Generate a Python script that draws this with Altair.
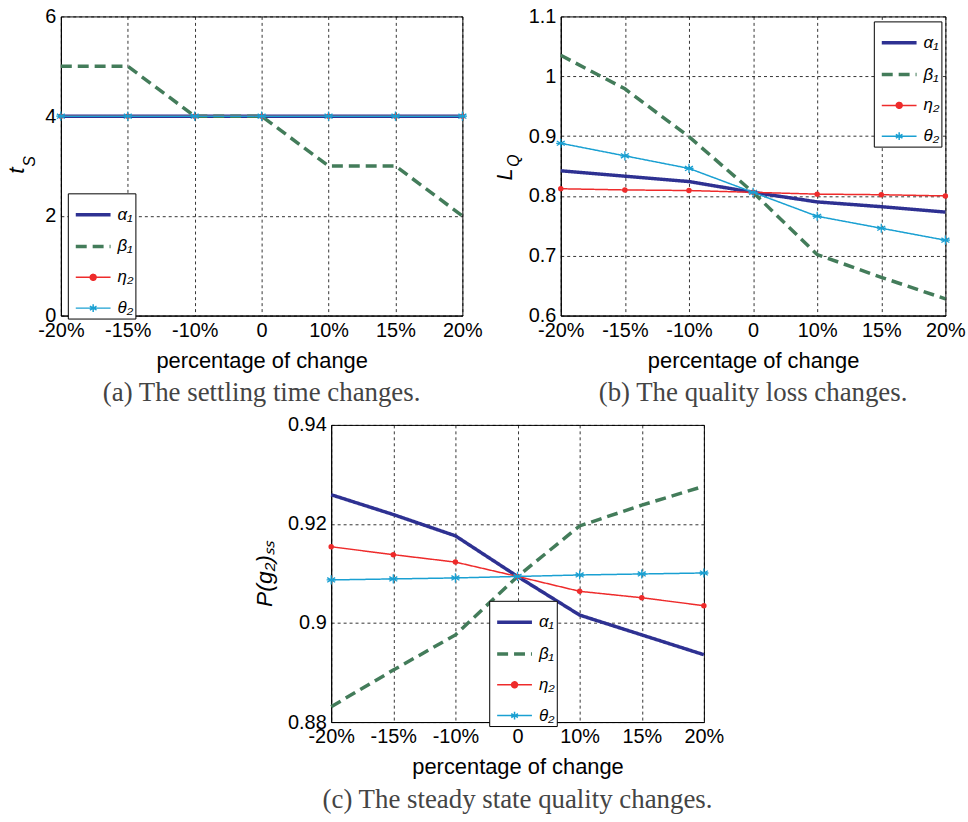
import json
import altair as alt
import pandas as pd

# ---------------- data ----------------
x_labels = ["-20%", "-15%", "-10%", "0", "10%", "15%", "20%"]
series = ["α₁", "β₁", "η₂", "θ₂"]

ts_alpha1 = [4, 4, 4, 4, 4, 4, 4]
ts_beta1 = [5, 5, 4, 4, 3, 3, 2]
ts_eta2 = [4, 4, 4, 4, 4, 4, 4]
ts_theta2 = [4, 4, 4, 4, 4, 4, 4]

lq_alpha1 = [0.842, 0.833, 0.824, 0.806, 0.790, 0.782, 0.773]
lq_beta1 = [1.035, 0.979, 0.899, 0.806, 0.702, 0.664, 0.628]
lq_eta2 = [0.812, 0.810, 0.809, 0.806, 0.803, 0.802, 0.800]
lq_theta2 = [0.888, 0.867, 0.846, 0.806, 0.766, 0.746, 0.726]

pg_alpha1 = [0.9259, 0.9219, 0.9176, 0.9094, 0.9016, 0.8976, 0.8936]
pg_beta1 = [0.8831, 0.8905, 0.8976, 0.9094, 0.9196, 0.9238, 0.9276]
pg_eta2 = [0.9154, 0.9138, 0.9123, 0.9094, 0.9064, 0.9051, 0.9035]
pg_theta2 = [0.9087, 0.9089, 0.9091, 0.9094, 0.9097, 0.9099, 0.9101]

colors = ["#2E3192", "#437C5A", "#EE2B2B", "#1AA0D2"]
dashes = [[1, 0], [11, 6], [1, 0], [1, 0]]
widths = [3.5, 3.5, 1.5, 1.5]

ASTERISK = "M0,-1L0,1M-0.87,-0.5L0.87,0.5M-0.87,0.5L0.87,-0.5M-1,0L1,0"
LINE = "M-1,0L1,0"
LINE_DOT = (LINE + "M0.17,0A0.17,0.17,0,1,1,-0.17,0A0.17,0.17,0,1,1,0.17,0"
            "M0.09,0A0.09,0.09,0,1,1,-0.09,0A0.09,0.09,0,1,1,0.09,0")
LINE_STAR = (LINE + "M0,-0.22L0,0.22M-0.19,-0.11L0.19,0.11M-0.19,0.11L0.19,-0.11"
             "M-0.22,0L0.22,0")
legend_shapes = [LINE, LINE, LINE_DOT, LINE_STAR]
SANS = "Liberation Sans, DejaVu Sans"


def make_df(vals):
    rows = []
    for s, v in zip(series, vals):
        for i, y in enumerate(v):
            rows.append({"idx": i, "series": s, "value": y})
    return pd.DataFrame(rows)


label_expr = json.dumps(x_labels) + "[datum.value]"


def panel(df, ydomain, yvalues, ytitle, lx, ly, caption, w, h, extra=None):
    legend = alt.Legend(
        orient="none", legendX=lx, legendY=ly, title=None,
        strokeColor="black", fillColor="white", padding=2,
        symbolSize=1225, symbolOffset=4, symbolOpacity=1,
        labelFontSize=17, labelFontStyle="italic", labelFont=SANS,
        rowPadding=4, labelOffset=5, cornerRadius=0,
    )
    x = alt.X(
        "idx:Q",
        scale=alt.Scale(domain=[0, 6], nice=False, zero=False),
        axis=alt.Axis(values=list(range(7)), labelExpr=label_expr,
                      labelFlush=False, labelOverlap=False,
                      title="percentage of change", titlePadding=10),
    )
    yax = dict(values=yvalues, format="~g", labelFlush=False, labelOverlap=False)
    if ytitle is None:
        yax["title"] = None
    else:
        yax["title"] = ytitle
        yax["titleFontStyle"] = "italic"
        yax["titleFontSize"] = 23
        yax["titlePadding"] = 11
    y = alt.Y("value:Q", scale=alt.Scale(domain=ydomain, nice=False, zero=False),
              axis=alt.Axis(**yax))
    base = alt.Chart(df)
    lines = base.mark_line(clip=False).encode(
        x=x, y=y,
        color=alt.Color("series:N", sort=series,
                        scale=alt.Scale(domain=series, range=colors), legend=legend),
        strokeDash=alt.StrokeDash("series:N", sort=series,
                                  scale=alt.Scale(domain=series, range=dashes), legend=legend),
        strokeWidth=alt.StrokeWidth("series:N", sort=series,
                                    scale=alt.Scale(type="ordinal", domain=series, range=widths),
                                    legend=legend),
    )
    # empty layer whose only job is to give the legend its line+marker symbols
    legend_layer = base.transform_filter("false").mark_point(filled=False, opacity=1).encode(
        x=x, y=y,
        shape=alt.Shape("series:N", sort=series,
                        scale=alt.Scale(domain=series, range=legend_shapes), legend=legend),
    )
    dots = base.transform_filter(alt.datum.series == series[2]).mark_point(
        shape="circle", filled=True, size=30, opacity=1).encode(
        x=x, y=y, color=alt.Color("series:N", legend=None))
    stars = base.transform_filter(alt.datum.series == series[3]).mark_point(
        shape=ASTERISK, filled=False, size=85, strokeWidth=1.3, opacity=1).encode(
        x=x, y=y, color=alt.Color("series:N", legend=None))
    layers = [lines, legend_layer, dots, stars]
    if extra is not None:
        layers += extra
    return alt.layer(*layers).properties(
        width=w, height=h,
        title=alt.TitleParams(caption, orient="bottom", font="Liberation Serif",
                              fontSize=27, fontWeight="normal", color="#444444",
                              offset=9),
    )


one = pd.DataFrame({"k": [0]})


def rot_text(txt, size, xv, yv):
    return alt.Chart(one).mark_text(
        text=txt, angle=270, font=SANS, fontSize=size, fontStyle="italic",
        align="center", baseline="middle", color="black").encode(
        x=alt.value(xv), y=alt.value(yv))


ts_title = [rot_text("t", 23, -44, 155), rot_text("S", 16, -31, 146)]
lq_title = [rot_text("L", 22, -56, 159), rot_text("Q", 16, -47, 145)]

pa = panel(make_df([ts_alpha1, ts_beta1, ts_eta2, ts_theta2]), [0, 6], [0, 2, 4, 6],
           None, 7, 178, "(a) The settling time changes.", 404, 301, extra=ts_title)
pb = panel(make_df([lq_alpha1, lq_beta1, lq_eta2, lq_theta2]), [0.6, 1.1],
           [0.6, 0.7, 0.8, 0.9, 1.0, 1.1], None, 315, 5,
           "(b) The quality loss changes.", 387, 301, extra=lq_title)
pc = panel(make_df([pg_alpha1, pg_beta1, pg_eta2, pg_theta2]), [0.88, 0.94],
           [0.88, 0.9, 0.92, 0.94], "P(g₂)ₛₛ", 159, 177,
           "(c) The steady state quality changes.", 375, 299)

# tiny invisible view that nudges panel (c) right, as in the reference
spacer = alt.Chart(one).mark_point(opacity=0).encode(
    x=alt.value(0), y=alt.value(0)).properties(
    width=1, height=1, view=alt.ViewBackground(stroke="transparent"))

ind = dict(color="independent", strokeDash="independent", strokeWidth="independent",
           shape="independent")
top = alt.hconcat(pa, pb, spacing=99, bounds="flush").resolve_scale(**ind).resolve_legend(**ind)
bottom = alt.hconcat(spacer, pc, spacing=28, bounds="flush").resolve_scale(**ind).resolve_legend(**ind)

chart = alt.vconcat(top, bottom, spacing=7, center=True).resolve_scale(**ind).resolve_legend(
    **ind
).configure(
    padding={"left": 5, "top": 3, "right": 2, "bottom": 2}, background="white"
).configure_view(stroke="black", strokeWidth=1).configure_axis(
    labelFont="Liberation Sans", labelFontSize=20, labelColor="black",
    titleFont="Liberation Sans", titleFontSize=22, titleColor="black",
    titleFontWeight="normal", grid=True, gridColor="black", gridDash=[3, 3],
    gridWidth=0.8, gridOpacity=1, domainColor="black", ticks=False, labelPadding=5,
)

chart.save("out.html", embed_options={"renderer": "svg", "actions": False})
